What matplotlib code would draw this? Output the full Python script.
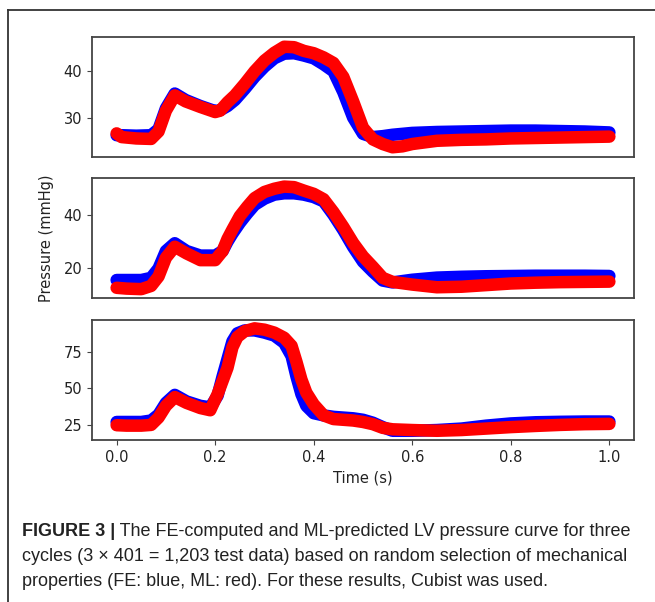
import matplotlib
matplotlib.use('Agg')
import matplotlib.pyplot as plt
from matplotlib.lines import Line2D

# time points (s), one list per panel
t1 = [0.0, 0.01, 0.04, 0.07, 0.085, 0.1, 0.118, 0.14, 0.17, 0.2, 0.21, 0.225, 0.24, 0.26,
      0.28, 0.3, 0.32, 0.34, 0.36, 0.38, 0.4, 0.42, 0.44, 0.46, 0.48, 0.5, 0.52, 0.54,
      0.56, 0.58, 0.6, 0.65, 0.7, 0.75, 0.8, 0.85, 0.9, 0.95, 1.0]
fe1 = [26.2, 26.2, 26.1, 26.2, 27.5, 32.0, 35.2, 33.8, 32.5, 31.4, 31.6, 32.5, 33.8, 36.2,
       38.8, 41.0, 42.8, 43.8, 43.9, 43.4, 42.8, 41.5, 40.0, 35.5, 30.0, 26.5, 25.8, 26.0,
       26.3, 26.5, 26.7, 26.9, 27.0, 27.1, 27.2, 27.2, 27.1, 27.0, 26.8]
ml1 = [26.6, 25.8, 25.5, 25.4, 27.0, 31.5, 34.8, 33.5, 32.3, 31.2, 31.5, 33.3, 34.8, 37.3,
       40.0, 42.3, 44.0, 45.3, 45.2, 44.4, 43.9, 43.0, 41.8, 38.8, 33.5, 27.8, 25.3, 24.3,
       23.6, 23.8, 24.3, 25.0, 25.2, 25.3, 25.5, 25.6, 25.7, 25.8, 25.9]

t2 = [0.0, 0.02, 0.05, 0.07, 0.085, 0.1, 0.118, 0.142, 0.17, 0.2, 0.215, 0.225, 0.235, 0.25,
      0.265, 0.28, 0.3, 0.32, 0.34, 0.36, 0.38, 0.4, 0.42, 0.44, 0.46, 0.48, 0.5, 0.52,
      0.54, 0.56, 0.6, 0.65, 0.7, 0.75, 0.8, 0.85, 0.9, 0.95, 1.0]
fe2 = [15.7, 15.7, 15.7, 16.5, 20.0, 26.5, 29.4, 26.5, 24.8, 24.8, 26.5, 30.0, 33.0, 37.0,
       40.5, 43.7, 46.0, 47.5, 48.0, 48.0, 47.5, 46.6, 45.0, 40.0, 34.3, 28.0, 22.5, 18.8,
       15.5, 14.8, 15.8, 16.6, 16.9, 17.1, 17.2, 17.3, 17.3, 17.3, 17.2]
ml2 = [12.8, 12.5, 12.3, 13.5, 17.0, 24.0, 28.1, 25.6, 23.1, 23.1, 26.5, 31.0, 34.5, 39.5,
       43.0, 46.2, 48.5, 49.7, 50.5, 50.3, 49.0, 47.8, 45.8, 41.0, 35.5, 29.5, 24.5, 20.6,
       16.5, 15.0, 14.0, 13.0, 13.2, 13.8, 14.4, 14.7, 14.9, 15.0, 15.1]

t3 = [0.0, 0.02, 0.05, 0.07, 0.085, 0.1, 0.118, 0.142, 0.17, 0.19, 0.205, 0.215, 0.225,
      0.235, 0.245, 0.26, 0.28, 0.3, 0.32, 0.34, 0.355, 0.365, 0.375, 0.385, 0.4, 0.42,
      0.44, 0.46, 0.48, 0.5, 0.52, 0.54, 0.56, 0.6, 0.65, 0.7, 0.75, 0.8, 0.85, 0.9, 0.95, 1.0]
fe3 = [27.0, 27.0, 27.0, 28.0, 32.0, 40.0, 45.5, 41.0, 38.0, 37.0, 45.0, 58.0, 70.0,
       82.0, 87.5, 89.5, 89.5, 88.0, 86.0, 81.0, 72.0, 58.0, 46.0, 38.0, 33.0, 31.5,
       30.5, 30.0, 29.5, 28.5, 26.5, 23.5, 21.0, 21.0, 21.5, 22.5, 24.5, 26.0, 26.8, 27.1, 27.3, 27.3]
ml3 = [24.8, 24.5, 24.5, 25.0, 30.0, 38.0, 44.0, 40.0, 36.5, 35.0, 46.0, 55.0, 64.0,
       78.0, 85.0, 89.0, 90.9, 90.0, 88.0, 84.5, 79.0, 68.0, 56.0, 47.0, 39.0, 31.5,
       29.0, 28.5, 28.0, 27.0, 25.5, 23.0, 22.0, 21.5, 21.0, 21.5, 22.5, 23.5, 24.3, 25.0, 25.5, 25.7]

panels = [(t1, fe1, ml1, (21.5, 47.4), [30, 40]),
          (t2, fe2, ml2, (9.0, 53.7), [20, 40]),
          (t3, fe3, ml3, (14.7, 96.6), [25, 50, 75])]

fig = plt.figure(figsize=(6.55, 6.02), dpi=100)
W, H = 655.0, 602.0
tops = [37, 178, 320]

for i, (t, fe, ml, ylim, yt) in enumerate(panels):
    top = tops[i]
    ax = fig.add_axes([92 / W, 1 - (top + 120) / H, 542 / W, 120 / H])
    ax.plot(t, fe, color='#0000ff', lw=9, solid_capstyle='round', solid_joinstyle='round')
    ax.plot(t, ml, color='#ff0000', lw=9, solid_capstyle='round', solid_joinstyle='round')
    ax.set_xlim(-0.05, 1.05)
    ax.set_ylim(*ylim)
    ax.set_yticks(yt)
    ax.set_xticks([0.0, 0.2, 0.4, 0.6, 0.8, 1.0])
    for s in ax.spines.values():
        s.set_color('#444444')
        s.set_linewidth(1.3)
    ax.tick_params(colors='#444444', labelcolor='#222222', labelsize=10.5, length=3.5)
    if i < 2:
        ax.set_xticklabels([])
        ax.tick_params(axis='x', length=0)
    else:
        ax.set_xticklabels(['0.0', '0.2', '0.4', '0.6', '0.8', '1.0'])
        ax.set_xlabel('Time (s)', fontsize=10.5, color='#222222', labelpad=4)

fig.text(46 / W, 1 - 238 / H, 'Pressure (mmHg)', rotation=90, fontsize=10.5,
         color='#222222', ha='center', va='center')

# frame lines of the figure box
fig.add_artist(Line2D([7.5 / W, 1], [1 - 9.5 / H] * 2, transform=fig.transFigure,
                      color='#333333', lw=1.3))
fig.add_artist(Line2D([7.5 / W] * 2, [0, 1 - 9.5 / H], transform=fig.transFigure,
                      color='#333333', lw=1.3))

# caption
cap = fig.add_axes([0, 0, 1, 1])
cap.axis('off')
cap.set_xlim(0, W)
cap.set_ylim(H, 0)
cfont = dict(family='Liberation Sans', fontsize=13, color='#222222')
t_bold = cap.text(22, 536, 'FIGURE 3 |', fontweight='bold', va='baseline', **cfont)
cap.annotate(' The FE-computed and ML-predicted LV pressure curve for three',
             xy=(1, 0), xycoords=t_bold, va='bottom', **cfont)
cap.text(22, 561, 'cycles (3 \u00d7 401 = 1,203 test data) based on random selection of mechanical',
         va='baseline', **cfont)
cap.text(22, 586, 'properties (FE: blue, ML: red). For these results, Cubist was used.',
         va='baseline', **cfont)

fig.savefig('out.png', dpi=100)
